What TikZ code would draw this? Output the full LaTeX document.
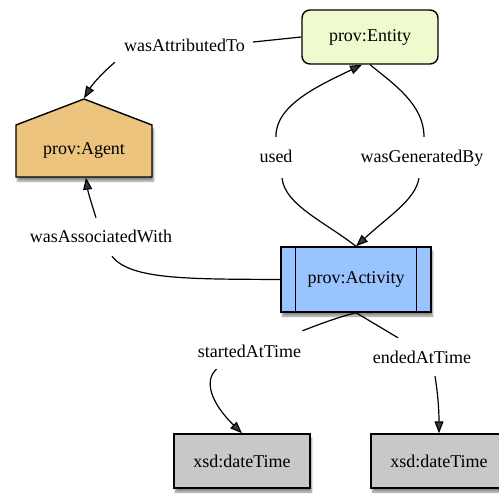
\documentclass[tikz,border=0pt]{standalone}
\usepackage{fontspec}
\setmainfont{Liberation Serif}
\usetikzlibrary{arrows.meta,shadows.blur}
\definecolor{entc}{RGB}{238,251,206}
\definecolor{agec}{RGB}{236,196,126}
\definecolor{actc}{RGB}{153,196,255}
\definecolor{dtc}{RGB}{200,200,200}
\begin{document}
\begin{tikzpicture}[x=1pt,y=-1pt,
  lbl/.style={inner sep=0pt, text height=13pt, text depth=4pt, anchor=base, font=\fontsize{18}{20}\selectfont},
  box/.style={inner sep=0pt, line width=1.4pt, font=\fontsize{18}{20}\selectfont},
  shad/.style={blur shadow={shadow xshift=1.5pt, shadow yshift=-4pt, shadow blur steps=6, shadow opacity=45}},
  edge/.style={line width=1.2pt},
  arr/.style={edge, -{Triangle[length=12pt,width=9pt]}}]
\useasboundingbox (0,0) rectangle (499,495);

% agent house shape (drawn first, text node on top)
\filldraw[line width=1.4pt, fill=agec, shad] (16,177) -- (16,125) -- (84,99) -- (152,125) -- (152,177) -- cycle;
\node[box, minimum width=136pt, minimum height=52pt] (agent) at (84,151) {prov:Agent};

% nodes
\node[box, draw, fill=entc, rounded corners=8pt, minimum width=136pt, minimum height=54pt] (entity) at (370,37) {prov:Entity};
\node[box, draw, fill=actc, shad, minimum width=150pt, minimum height=65pt] (activity) at (356,279.5) {prov:Activity};
\draw[line width=1.4pt] ([xshift=15pt]activity.north west) -- ([xshift=15pt]activity.south west);
\draw[line width=1.4pt] ([xshift=-15pt]activity.north east) -- ([xshift=-15pt]activity.south east);
\node[box, draw, fill=dtc, shad, minimum width=136pt, minimum height=54pt] (dt1) at (242,461) {xsd:dateTime};
\node[box, draw, fill=dtc, shad, minimum width=136pt, minimum height=54pt] (dt2) at (439,461) {xsd:dateTime};

% labels
\node[lbl] (attr) at (184.5,52) {wasAttributedTo};
\node[lbl] (used) at (276,163) {used};
\node[lbl] (gen) at (422,163) {wasGeneratedBy};
\node[lbl] (assoc) at (101,243) {wasAssociatedWith};
\node[lbl] (started) at (249.5,357) {startedAtTime};
\node[lbl] (ended) at (422,363) {endedAtTime};

% edges
\draw[edge] (entity.west) -- ([xshift=8pt,yshift=5.5pt]attr.east);
\draw[arr] ([xshift=-9pt,yshift=-6pt]attr.south west) .. controls (100,75) and (92,85) .. ([yshift=26pt]agent.north);

\draw[arr] ([yshift=13pt]used.north) .. controls (275,105) and (320,85) .. ([xshift=-8pt]entity.south);
\draw[edge] ([xshift=6pt,yshift=-11pt]used.south) .. controls (285,205) and (325,222) .. (activity.north);

\draw[edge] (entity.south) .. controls (395,85) and (424,105) .. ([xshift=2pt,yshift=13pt]gen.north);
\draw[arr] ([xshift=-3pt,yshift=-11pt]gen.south) .. controls (415,200) and (390,215) .. (activity.north);

\draw[edge] (activity.west) .. controls (190,279) and (130,280) .. ([xshift=11pt,yshift=-9pt]assoc.south);
\draw[arr] ([xshift=-5pt,yshift=12pt]assoc.north) .. controls (92,205) and (88,192) .. ([xshift=2pt]agent.south);

\draw[edge] (activity.south) .. controls (335,318) and (315,326) .. ([xshift=1pt,yshift=13pt]started.north east);
\draw[arr] ([xshift=19pt,yshift=-8pt]started.south west) .. controls (204,380) and (210,402) .. (dt1.north);

\draw[edge] (activity.south) -- ([xshift=-24pt,yshift=12pt]ended.north);
\draw[arr] ([xshift=13pt,yshift=-9pt]ended.south) .. controls (438,395) and (439,410) .. (dt2.north);
\end{tikzpicture}
\end{document}
